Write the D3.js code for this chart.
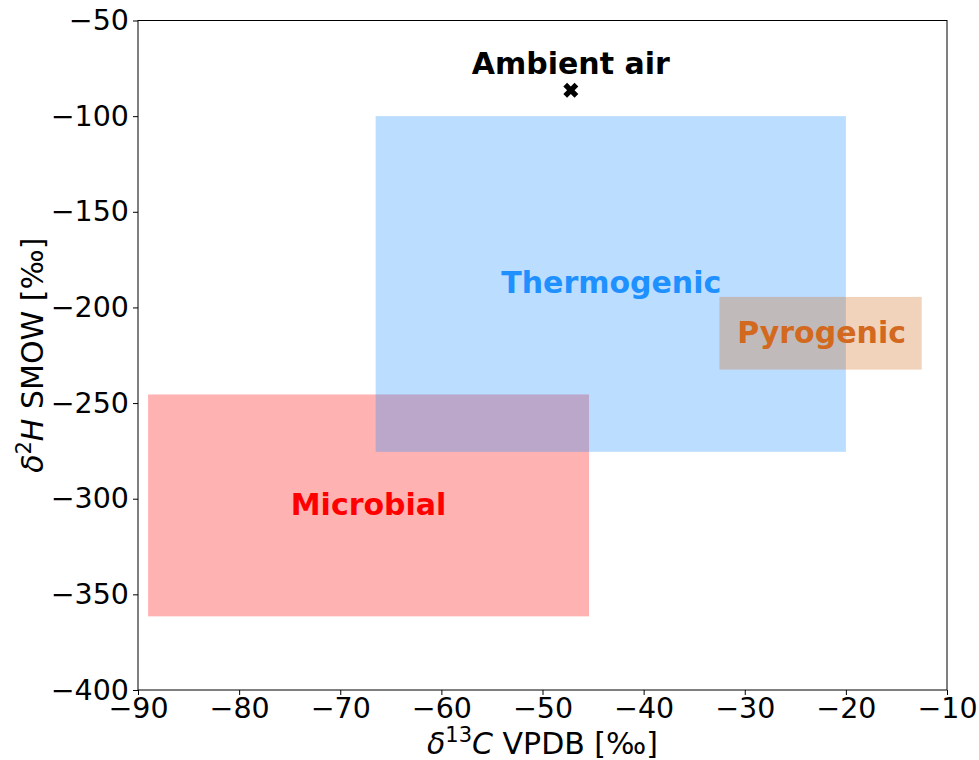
<!DOCTYPE html>
<html>
<head>
<meta charset="utf-8">
<script src="https://cdn.jsdelivr.net/npm/d3@7"></script>
<style>
  body { margin: 0; background: #fff; }
  svg text { font-family: "DejaVu Sans", sans-serif; }
</style>
</head>
<body>
<script>
// source regions: [x0, x1] in d13C, [y0, y1] in d2H
const sources = ['Microbial', 'Thermogenic', 'Pyrogenic'];
const xRanges = [[-89, -45.4], [-66.5, -20], [-32.5, -12.5]];
const yRanges = [[-361.5, -245.5], [-275.5, -100], [-232.5, -194.5]];
const labelPos = [[-67.2, -303], [-43.2, -187], [-22.4, -213]];
const colors = ['red', 'dodgerblue', 'chocolate'];

const ambient = { label: 'Ambient air', x: -47.2, y: -86.5 };

const xTicks = [-90, -80, -70, -60, -50, -40, -30, -20, -10];
const yTicks = [-400, -350, -300, -250, -200, -150, -100, -50];

const width = 979, height = 760;
const margin = { left: 138, right: 32, top: 20.5, bottom: 70 };

const svg = d3.select('body').append('svg')
  .attr('width', width)
  .attr('height', height);

const x = d3.scaleLinear().domain([-90, -10]).range([margin.left, width - margin.right]);
const y = d3.scaleLinear().domain([-400, -50]).range([height - margin.bottom, margin.top]);

const fmt = d => d < 0 ? '\u2212' + Math.abs(d) : String(d);

// boxes
svg.append('g').selectAll('rect')
  .data(sources)
  .join('rect')
  .attr('x', (d, i) => x(xRanges[i][0]))
  .attr('width', (d, i) => x(xRanges[i][1]) - x(xRanges[i][0]))
  .attr('y', (d, i) => y(yRanges[i][1]))
  .attr('height', (d, i) => y(yRanges[i][0]) - y(yRanges[i][1]))
  .attr('fill', (d, i) => colors[i])
  .attr('fill-opacity', 0.3);

svg.append('g').selectAll('text')
  .data(sources)
  .join('text')
  .attr('x', (d, i) => x(labelPos[i][0]))
  .attr('y', (d, i) => y(labelPos[i][1]))
  .attr('text-anchor', 'middle')
  .attr('dominant-baseline', 'central')
  .attr('font-size', 30)
  .attr('font-weight', 'bold')
  .attr('fill', (d, i) => colors[i])
  .text(d => d);

// ambient air marker (thick X)
const mx = x(ambient.x), my = y(ambient.y);
svg.append('path')
  .attr('transform', `translate(${mx},${my}) rotate(45)`)
  .attr('d', d3.symbol(d3.symbolCross, 140)())
  .attr('fill', 'black');

svg.append('text')
  .attr('x', mx)
  .attr('y', my - 16)
  .attr('text-anchor', 'middle')
  .attr('font-size', 30)
  .attr('font-weight', 'bold')
  .text(ambient.label);

// axes
const xAxis = svg.append('g')
  .attr('transform', `translate(0,${height - margin.bottom})`)
  .call(d3.axisBottom(x).tickValues(xTicks).tickFormat(fmt).tickSize(5).tickPadding(3));
const yAxis = svg.append('g')
  .attr('transform', `translate(${margin.left},0)`)
  .call(d3.axisLeft(y).tickValues(yTicks).tickFormat(fmt).tickSize(5).tickPadding(4));
[xAxis, yAxis].forEach(a => {
  a.select('.domain').remove();
  a.selectAll('text').attr('font-size', 28.5).attr('font-family', 'DejaVu Sans').attr('fill', '#000');
  a.selectAll('line').attr('stroke', '#000').attr('stroke-width', 1);
});

svg.append('rect')
  .attr('x', margin.left)
  .attr('y', margin.top)
  .attr('width', width - margin.right - margin.left)
  .attr('height', height - margin.bottom - margin.top)
  .attr('fill', 'none')
  .attr('stroke', '#000')
  .attr('stroke-width', 1);

// axis labels
const xl = svg.append('text')
  .attr('x', (margin.left + width - margin.right) / 2)
  .attr('y', 754)
  .attr('text-anchor', 'middle')
  .attr('font-size', 30);
xl.append('tspan').attr('font-style', 'italic').text('\u03b4');
xl.append('tspan').attr('font-size', 21).attr('dy', -12).text('13');
xl.append('tspan').attr('font-style', 'italic').attr('dy', 12).text('C');
xl.append('tspan').text(' VPDB [\u2030]');

const yl = svg.append('text')
  .attr('transform', `translate(43,${(margin.top + height - margin.bottom) / 2}) rotate(-90)`)
  .attr('text-anchor', 'middle')
  .attr('font-size', 30);
yl.append('tspan').attr('font-style', 'italic').text('\u03b4');
yl.append('tspan').attr('font-size', 21).attr('dy', -12).text('2');
yl.append('tspan').attr('font-style', 'italic').attr('dy', 12).text('H');
yl.append('tspan').text(' SMOW [\u2030]');
</script>
</body>
</html>
